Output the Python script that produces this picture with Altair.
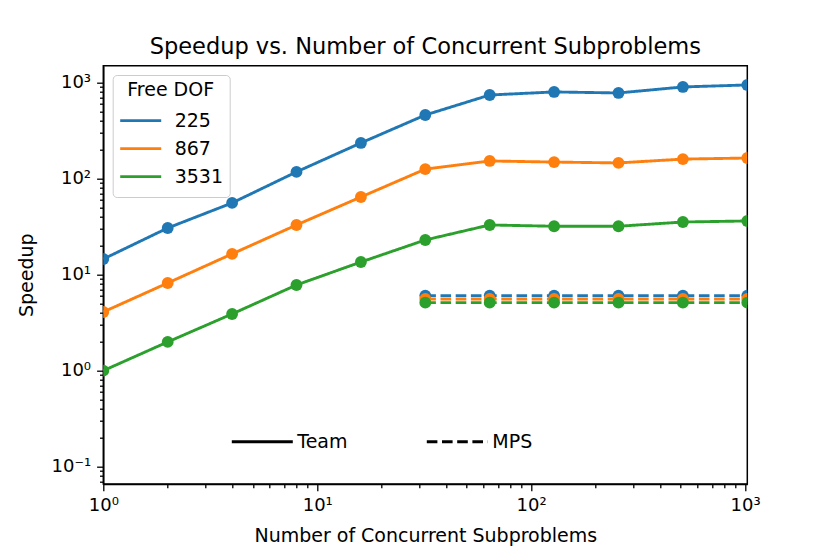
import altair as alt
import pandas as pd

# ---- data ----
subproblems = [1, 2, 4, 8, 16, 32, 64, 128, 256, 512, 1024]
mps_subproblems = [32, 64, 128, 256, 512, 1024]
dof_labels = ["225", "867", "3531"]
team_225 = [14.5, 30.5, 55.6, 117, 234, 457, 738, 794, 775, 895, 939]
team_867 = [4.08, 8.17, 16.4, 32.8, 64.1, 125, 152, 148, 145, 159, 163]
team_3531 = [1.0, 1.99, 3.89, 7.79, 13.5, 22.9, 32.8, 31.8, 31.8, 35.2, 36.1]
mps_225 = [6.04, 6.04, 6.04, 6.04, 6.04, 6.04]
mps_867 = [5.57, 5.57, 5.57, 5.57, 5.57, 5.57]
mps_3531 = [5.1, 5.1, 5.1, 5.1, 5.1, 5.1]
kinds = ["Team", "MPS"]
colors = ["#1f77b4", "#ff7f0e", "#2ca02c"]

x_ticks = [1, 2, 3, 4, 5, 6, 7, 8, 9, 10, 20, 30, 40, 50, 60, 70, 80, 90,
           100, 200, 300, 400, 500, 600, 700, 800, 900, 1000]
y_ticks = [0.07, 0.08, 0.09, 0.1, 0.2, 0.3, 0.4, 0.5, 0.6, 0.7, 0.8, 0.9,
           1, 2, 3, 4, 5, 6, 7, 8, 9, 10, 20, 30, 40, 50, 60, 70, 80, 90,
           100, 200, 300, 400, 500, 600, 700, 800, 900, 1000]

rows = []
for dof, vals in zip(dof_labels, [team_225, team_867, team_3531]):
    for n, v in zip(subproblems, vals):
        rows.append({"n": n, "speedup": v, "dof": dof, "kind": "Team"})
for dof, vals in zip(dof_labels, [mps_225, mps_867, mps_3531]):
    for n, v in zip(mps_subproblems, vals):
        rows.append({"n": n, "speedup": v, "dof": dof, "kind": "MPS"})
df = pd.DataFrame(rows)

FONT = "DejaVu Sans"
label_expr = ("datum.value == 1 ? '10⁰' : datum.value == 10 ? '10¹' : "
              "datum.value == 100 ? '10²' : datum.value == 1000 ? '10³' : "
              "datum.value == 0.1 ? '10⁻¹' : ''")
major_test = "indexof([0.1, 1, 10, 100, 1000], datum.value) >= 0"

xscale = alt.Scale(type="log", domain=[1, 1024], nice=False)
yscale = alt.Scale(type="log", domain=[0.0662, 1489], nice=False)

xaxis = alt.Axis(
    values=x_ticks, labelExpr=label_expr, labelOverlap=False, labelFlush=False,
    grid=False, tickSize={"condition": {"test": major_test, "value": 6.7}, "value": 3.8},
    tickColor="black", tickWidth=1.3, domainColor="black", domainWidth=1.5,
    labelFont=FONT, labelFontSize=18, labelColor="black", labelPadding=6,
    title="Number of Concurrent Subproblems", titleFont=FONT, titleFontSize=19,
    titleFontWeight="normal", titleColor="black", titleX=322, titleY=57.7,
    titleBaseline="alphabetic", titleAlign="center",
)
yaxis = alt.Axis(
    values=y_ticks, labelExpr=label_expr, labelOverlap=False, labelFlush=False,
    grid=False, tickSize={"condition": {"test": major_test, "value": 6.7}, "value": 3.8},
    tickColor="black", tickWidth=1.3, domainColor="black", domainWidth=1.5,
    labelFont=FONT, labelFontSize=18, labelColor="black", labelPadding=6,
    title="Speedup", titleFont=FONT, titleFontSize=19, titleFontWeight="normal",
    titleColor="black", titleX=-70.3, titleY=209, titleAngle=270,
    titleBaseline="alphabetic", titleAlign="center",
)

color_legend = alt.Legend(
    title="Free DOF", orient="none", legendX=9.4, legendY=9.3,
    symbolType="stroke", symbolSize=1681, symbolStrokeWidth=2.9,
    labelFont=FONT, labelFontSize=19, labelColor="black", labelOffset=12,
    titleFont=FONT, titleFontSize=19, titleFontWeight="normal", titleColor="black",
    titleAnchor="middle", titleAlign="center", titlePadding=7,
    fillColor="white", strokeColor="#cccccc", cornerRadius=4, padding=6,
    clipHeight=27.2, rowPadding=0,
)
color_enc = alt.Color("dof:N", sort=dof_labels,
                      scale=alt.Scale(domain=dof_labels, range=colors),
                      legend=color_legend)

lines = alt.Chart(df).mark_line(strokeWidth=2.9, clip=True).encode(
    x=alt.X("n:Q", scale=xscale, axis=xaxis),
    y=alt.Y("speedup:Q", scale=yscale, axis=yaxis),
    color=color_enc,
    strokeDash=alt.StrokeDash(
        "kind:N", sort=kinds,
        scale=alt.Scale(domain=kinds, range=[[1, 0], [10.6, 4.6]]),
        legend=alt.Legend(
            title=None, orient="none", legendX=127, legendY=344,
            direction="horizontal", symbolType="stroke", symbolSize=3721,
            symbolStrokeWidth=2.9, symbolStrokeColor="black",
            labelFont=FONT, labelFontSize=19, labelColor="black",
            labelOffset=3, columnPadding=72, padding=0,
        ),
    ),
    order=alt.Order("kind:N"),
)

points = alt.Chart(df).mark_circle(size=140, opacity=1, clip=True).encode(
    x=alt.X("n:Q", scale=xscale, axis=xaxis),
    y=alt.Y("speedup:Q", scale=yscale, axis=yaxis),
    color=color_enc,
)

chart = alt.layer(lines, points).properties(
    width=644, height=418.3,
    title=alt.TitleParams(
        "Speedup vs. Number of Concurrent Subproblems", font=FONT, fontSize=22.5,
        fontWeight="normal", color="black", baseline="alphabetic", offset=10.7,
        dy=21, anchor="middle", frame="group",
    ),
    autosize=alt.AutoSizeParams(type="none"),
    padding={"left": 95.3, "top": 57.7, "right": 70, "bottom": 72},
).configure_view(stroke="black", strokeWidth=1.5)

chart.save("out.html", embed_options={"renderer": "svg", "actions": False})
